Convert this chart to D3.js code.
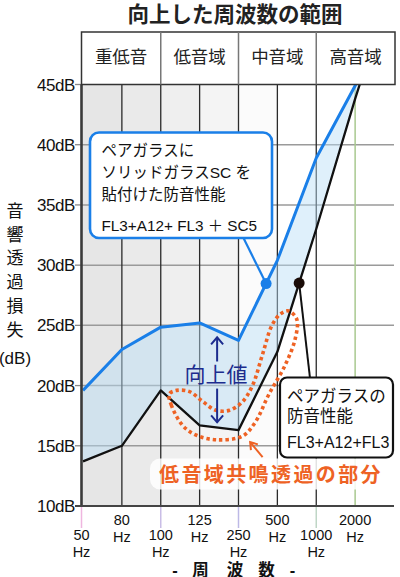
<!DOCTYPE html>
<html>
<head>
<meta charset="utf-8">
<script src="https://cdn.jsdelivr.net/npm/d3@7/dist/d3.min.js"></script>
<style>
html,body{margin:0;padding:0;background:#fff;}
svg{display:block;}
text{font-family:'Liberation Sans','Noto Sans CJK JP',sans-serif;}
</style>
</head>
<body>
<svg id="chart" width="400" height="577"></svg>
<script>
// ---- data ----
const categories = ["50","80","100","125","250","500","1000","2000","4000"];
const tickLabels = ["50","80","100","125","250","500","1000","2000"];
const bandNames = ["重低音","低音域","中音域","高音域"];
const bandStart = ["50","100","250","1000"];
const yTicks = [10,15,20,25,30,35,40,45];
// ペアガラス＋ソリッドガラスSC (blue)
const scValues = [19.6, 23.0, 24.85, 25.2, 23.75, 30.4, 38.9, 44.9, 51];
// ペアガラス FL3+A12+FL3 (black)
const pairValues = [13.7, 15.0, 19.6, 16.7, 16.3, 22.8, 33.0, 43.8, 54];
// resonance loop outline (index, dB)
const loopIdx = [2.22,2.27,2.56,2.9,3.42,4.1,4.44,4.77,5.2,5.46,5.5,5.29,5.08,4.86,4.61,4.36,4.1,3.77,3.42,3.09,2.74,2.41];
const loopDb  = [19.3,18.4,16.7,15.9,15.5,15.8,17.0,19.2,21.7,23.9,25.5,26.2,25.95,25.0,22.5,20.0,18.65,17.95,17.95,18.65,19.5,19.6];

const svg = d3.select("#chart");
const plotL = 81.5, plotR = 394, plotT = 84.5, plotB = 506;

const x = d3.scalePoint().domain(categories).range([83, 394]);
const xi = d3.scaleLinear().domain([0, categories.length - 1]).range([83, 394]);
const y = d3.scaleLinear().domain([10, 45]).range([plotB, plotT]);

const valAt = (vals, t) => { const i = Math.floor(t); return vals[i] + (vals[i+1] - vals[i]) * (t - i); };

// clip
svg.append("defs").append("clipPath").attr("id","clip")
  .append("rect").attr("x", plotL).attr("y", plotT).attr("width", plotR - plotL).attr("height", plotB - plotT);

// background columns
const colFill = ["#e6e6e6","#eaeaea","#efefef","#f4f4f4","#fbfbfb"];
svg.append("g").selectAll("rect").data(colFill).join("rect")
  .attr("x", (d,i) => i === 0 ? plotL : x(categories[i]))
  .attr("y", plotT)
  .attr("width", (d,i) => x(categories[i+1]) - (i === 0 ? plotL : x(categories[i])))
  .attr("height", plotB - plotT)
  .attr("fill", d => d);

// horizontal grid + y ticks
svg.append("g").selectAll("line").data(yTicks.filter(v => v > 10 && v < 45)).join("line")
  .attr("x1", plotL).attr("x2", plotR)
  .attr("y1", d => y(d)).attr("y2", d => y(d))
  .attr("stroke", "#9a9a9a").attr("stroke-width", 1.5);
svg.append("g").selectAll("line").data(yTicks).join("line")
  .attr("x1", 75).attr("x2", plotL)
  .attr("y1", d => y(d)).attr("y2", d => y(d))
  .attr("stroke", "#888").attr("stroke-width", 1.3);

// vertical grid
svg.append("g").selectAll("line").data(tickLabels.slice(1)).join("line")
  .attr("x1", d => x(d)).attr("x2", d => x(d))
  .attr("y1", plotT).attr("y2", plotB)
  .attr("stroke", d => d === "2000" ? "#a9c98f" : "#2a2a2a")
  .attr("stroke-width", d => d === "2000" ? 1.5 : 1.3);

// ticks below axis
const tickColor = {"50":"#efb6df","100":"#c9bde6","250":"#bdb9e6","1000":"#bfd6c6"};
svg.append("g").selectAll("line").data(Object.keys(tickColor)).join("line")
  .attr("x1", d => d === "50" ? plotL : x(d)).attr("x2", d => d === "50" ? plotL : x(d))
  .attr("y1", plotB + 1).attr("y2", 528)
  .attr("stroke", d => tickColor[d]).attr("stroke-width", 1.5);

// area between
const gPlot = svg.append("g").attr("clip-path", "url(#clip)");
const idx = d3.range(categories.length);
gPlot.append("path")
  .datum(idx)
  .attr("d", d3.area().x(i => x(categories[i])).y0(i => y(pairValues[i])).y1(i => y(scValues[i])))
  .attr("fill", "#b8def7").attr("fill-opacity", 0.45);

// lines
gPlot.append("path").datum(idx)
  .attr("d", d3.line().x(i => x(categories[i])).y(i => y(pairValues[i])))
  .attr("fill", "none").attr("stroke", "#111").attr("stroke-width", 2.3).attr("stroke-linejoin","round");
gPlot.append("path").datum(idx)
  .attr("d", d3.line().x(i => x(categories[i])).y(i => y(scValues[i])))
  .attr("fill", "none").attr("stroke", "#1a7fe8").attr("stroke-width", 3).attr("stroke-linejoin","round");

// borders
svg.append("line").attr("x1", plotL).attr("x2", plotL).attr("y1", plotT).attr("y2", plotB)
  .attr("stroke", "#3a3a3a").attr("stroke-width", 2.6);
svg.append("line").attr("x1", 75).attr("x2", plotR).attr("y1", plotB).attr("y2", plotB)
  .attr("stroke", "#444").attr("stroke-width", 2);

// header band
const hdrT = 32;
svg.append("rect").attr("x", plotL).attr("y", hdrT).attr("width", plotR - plotL + 1).attr("height", plotT - hdrT)
  .attr("fill", "#fff").attr("stroke", "#333").attr("stroke-width", 1.5);
svg.append("g").selectAll("line").data(bandStart.slice(1)).join("line")
  .attr("x1", d => x(d)).attr("x2", d => x(d)).attr("y1", hdrT).attr("y2", plotT)
  .attr("stroke", "#777").attr("stroke-width", 1.5);
const bandEdgesX = bandStart.map((d,i) => i === 0 ? plotL : x(d)).concat([plotR + 1]);
svg.append("g").selectAll("text").data(bandNames).join("text")
  .attr("x", (d,i) => (bandEdgesX[i] + bandEdgesX[i+1]) / 2)
  .attr("y", 62.5).attr("text-anchor", "middle")
  .attr("font-size", 17.5).attr("fill", "#222").text(d => d);

// title
svg.append("text").attr("x", 235).attr("y", 21.5).attr("text-anchor", "middle")
  .attr("font-size", 21.5).attr("font-weight", "bold").attr("fill", "#222").text("向上した周波数の範囲");

// y labels
svg.append("g").selectAll("text").data(yTicks).join("text")
  .attr("x", 75).attr("y", d => y(d) + 6).attr("text-anchor", "end")
  .attr("font-size", 17).attr("letter-spacing", -0.4).attr("fill", "#111").text(d => d + "dB");

// y title
const yTitle = ["音","響","透","過","損","失"];
svg.append("g").selectAll("text").data(yTitle).join("text")
  .attr("x", 15).attr("y", (d,i) => 217 + i * 23.7).attr("text-anchor", "middle")
  .attr("font-size", 17).attr("fill", "#111").text(d => d);
svg.append("text").attr("x", 15).attr("y", 364).attr("text-anchor", "middle")
  .attr("font-size", 17).attr("fill", "#111").text("(dB)");

// x labels (number + Hz, staggered)
const xl = svg.append("g").selectAll("text").data(tickLabels).join("text")
  .attr("text-anchor","middle").attr("font-size", 14.5).attr("fill", "#111")
  .attr("x", (d,i) => i === 0 ? plotL : x(d))
  .attr("y", (d,i) => i % 2 === 1 ? 525 : 540);
xl.append("tspan").text(d => d);
xl.append("tspan").attr("x", (d,i) => i === 0 ? plotL : x(d)).attr("dy", 16.8).text("Hz");

// x title
const xTitle = ["-","周","波","数","-"];
const xTitlePos = [175, 200.5, 235, 266.5, 292.5];
svg.append("g").selectAll("text").data(xTitle).join("text")
  .attr("x", (d,i) => xTitlePos[i]).attr("y", 575.5).attr("text-anchor","middle")
  .attr("font-size", 16.5).attr("font-weight", "bold").attr("fill", "#111").text(d => d);

// ---- annotations ----
const orange = "#ee6224";
// resonance loop
svg.append("path")
  .datum(d3.range(loopIdx.length))
  .attr("d", d3.line().x(i => xi(loopIdx[i])).y(i => y(loopDb[i])).curve(d3.curveCatmullRomClosed.alpha(0.5)))
  .attr("fill", "none").attr("stroke", orange).attr("stroke-width", 3.6).attr("stroke-dasharray", "3.4 3");

// 向上値 arrows
const navy = "#1c2c8e";
const arrowT = 3.45;
function arrow(fromDb, toDb) {
  const ax = xi(arrowT), y1 = y(fromDb), y2 = y(toDb);
  const dir = y2 < y1 ? 1 : -1;
  svg.append("line").attr("x1", ax).attr("x2", ax).attr("y1", y1).attr("y2", y2)
    .attr("stroke", navy).attr("stroke-width", 2);
  svg.append("path").attr("d", `M${ax-6},${y2 + dir*7}L${ax},${y2}L${ax+6},${y2 + dir*7}`)
    .attr("fill","none").attr("stroke", navy).attr("stroke-width", 2);
}
arrow(22.0, 24.0);
arrow(19.75, 16.95);
svg.append("text").attr("x", xi(arrowT) - 1).attr("y", 381.5).attr("text-anchor","middle")
  .attr("font-size", 21).attr("fill", navy).text("向上値");

// blue callout
const blueT = 4.71, blackT = 5.56;
const bdx = xi(blueT), bdy = y(valAt(scValues, blueT));
svg.append("line").attr("x1", 243).attr("y1", 237).attr("x2", bdx).attr("y2", bdy)
  .attr("stroke", "#1a7fe8").attr("stroke-width", 2.2);
svg.append("rect").attr("x", 90).attr("y", 132.5).attr("width", 182).attr("height", 105.5).attr("rx", 9)
  .attr("fill", "#fff").attr("stroke", "#1a7fe8").attr("stroke-width", 2.6);
const blueLines = ["ペアガラスに","ソリッドガラスSC を","貼付けた防音性能"];
svg.append("g").selectAll("text").data(blueLines).join("text")
  .attr("x", 101.5).attr("y", (d,i) => 156 + i * 22.2)
  .attr("font-size", 15.5).attr("fill", "#111").text(d => d);
svg.append("text").attr("x", 101.5).attr("y", 231).attr("font-size", 15.3).attr("fill", "#111")
  .text("FL3+A12+ FL3 ＋ SC5");
svg.append("circle").attr("cx", bdx).attr("cy", bdy).attr("r", 5.5).attr("fill", "#1a7fe8");

// black callout
const kdx = xi(blackT), kdy = y(valAt(pairValues, blackT));
svg.append("line").attr("x1", kdx).attr("y1", kdy).attr("x2", 310).attr("y2", 378)
  .attr("stroke", "#111").attr("stroke-width", 2);
svg.append("circle").attr("cx", kdx).attr("cy", kdy).attr("r", 5.5).attr("fill", "#1a0c08");

// orange label
svg.append("rect").attr("x", 150).attr("y", 458.5).attr("width", 243).attr("height", 31).attr("rx", 10)
  .attr("fill", "#fff").attr("fill-opacity", 0.85);
svg.append("text").attr("x", 159).attr("y", 481.5).attr("font-size", 20).attr("font-weight","bold")
  .attr("letter-spacing", 2.4).attr("fill", orange).text("低音域共鳴透過の部分");
// orange pointer
const p1x = xi(4.62), p1y = y(14.06), p2x = xi(4.3), p2y = y(15.3);
svg.append("line").attr("x1", p1x).attr("y1", p1y).attr("x2", p2x).attr("y2", p2y)
  .attr("stroke", orange).attr("stroke-width", 2);
{
  const ang = Math.atan2(p2y - p1y, p2x - p1x), L = 8, a = 0.6;
  svg.append("path")
    .attr("d", `M${p2x - L*Math.cos(ang-a)},${p2y - L*Math.sin(ang-a)}L${p2x},${p2y}L${p2x - L*Math.cos(ang+a)},${p2y - L*Math.sin(ang+a)}`)
    .attr("fill","none").attr("stroke", orange).attr("stroke-width", 2);
}

svg.append("rect").attr("x", 280).attr("y", 377.5).attr("width", 113).attr("height", 80).attr("rx", 7)
  .attr("fill", "#fff").attr("stroke", "#111").attr("stroke-width", 2.2);
const blackLines = ["ペアガラスの","防音性能"];
svg.append("g").selectAll("text").data(blackLines).join("text")
  .attr("x", 287).attr("y", (d,i) => 402 + i * 20)
  .attr("font-size", 16.5).attr("fill", "#111").text(d => d);
svg.append("text").attr("x", 287).attr("y", 448).attr("font-size", 16).attr("fill", "#111")
  .text("FL3+A12+FL3");
</script>
</body>
</html>
